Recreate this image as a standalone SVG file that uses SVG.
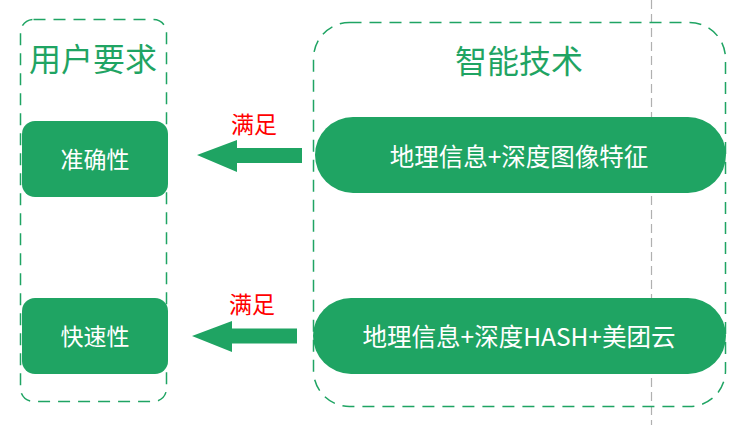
<svg xmlns="http://www.w3.org/2000/svg" width="755" height="425" viewBox="0 0 755 425">
<style>
.frame{fill:none;stroke:#1fa463;stroke-width:1.5;stroke-dasharray:12 8}
.node{fill:#1fa463}
.t{font-family:"Noto Sans CJK SC","Noto Sans",sans-serif;text-anchor:middle;dominant-baseline:central}
.title{fill:#1fa463;font-size:32px}
.nt{fill:#ffffff;font-size:23px}
.pt{fill:#ffffff;font-size:24.5px}
.lab{fill:#ff0000;font-size:23px}
.arrow{fill:#1fa463}
</style>
<rect width="755" height="425" fill="#ffffff"/>
<line x1="651.5" y1="0" x2="651.5" y2="425" stroke="#b0b0b0" stroke-width="1.2" stroke-dasharray="9 5"/>
<g id="user-req">
<rect class="frame" x="20.5" y="19.5" width="146" height="382" rx="13"/>
<text class="t title" x="93" y="57">用户要求</text>
</g>
<g id="tech">
<rect class="frame" x="313.5" y="22.5" width="412" height="384" rx="36"/>
<text class="t title" x="519" y="59">智能技术</text>
</g>
<g id="accuracy">
<rect class="node" x="22" y="121" width="146" height="76" rx="13"/>
<text class="t nt" x="95" y="158">准确性</text>
</g>
<g id="speed">
<rect class="node" x="22" y="298" width="146" height="76" rx="13"/>
<text class="t nt" x="95" y="335">快速性</text>
</g>
<g id="tech1">
<rect class="node" x="315" y="117" width="411" height="76" rx="38"/>
<text class="t pt" x="519" y="155">地理信息+深度图像特征</text>
</g>
<g id="tech2">
<rect class="node" x="313" y="298" width="413" height="76" rx="38"/>
<text class="t pt" x="519" y="335">地理信息+深度HASH+美团云</text>
</g>
<g id="connectors">
<polygon class="arrow" points="197,155 237,140 237,148 302,148 302,163 237,163 237,172"/>
<text class="t lab" x="254" y="122.5">满足</text>
<polygon class="arrow" points="192,336 232,321 232,328.5 297,328.5 297,343.5 232,343.5 232,352"/>
<text class="t lab" x="252" y="302.5">满足</text>
</g>
</svg>
